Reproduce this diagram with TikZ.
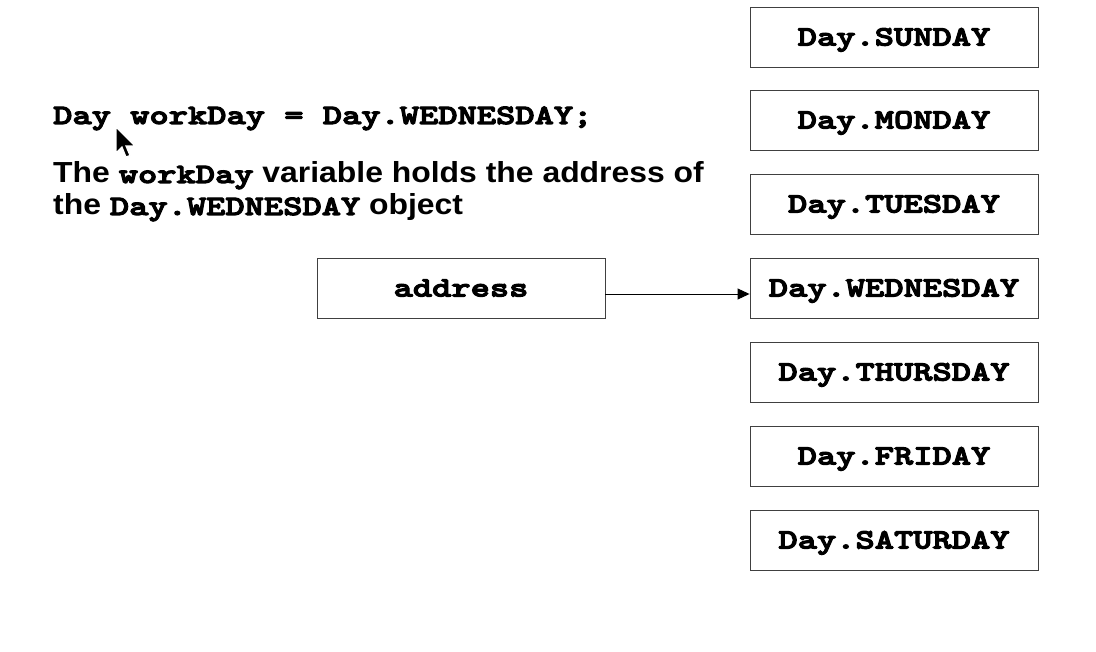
\documentclass[tikz,border=0pt]{standalone}
\usepackage{fontspec}
\setmainfont[FakeStretch=1.1]{Liberation Sans}
\newfontfamily\cmono[FakeStretch=1.31,FakeBold=4]{lmmonolt10-bold.otf}
\usetikzlibrary{arrows.meta}
\newcommand\cw[1]{{\cmono\fontsize{28}{32}\selectfont #1}}
\begin{document}
\begin{tikzpicture}[x=1pt,y=-1pt,
  daybox/.style={draw=black!75,line width=0.9pt,minimum width=288pt,minimum height=60pt,inner sep=0pt,text height=17pt,text depth=0pt},
  plain/.style={anchor=base west,inner sep=0pt},
  sanstext/.style={anchor=base west,inner sep=0pt,font=\bfseries\fontsize{29}{34}\selectfont}]
\useasboundingbox (0,0) rectangle (1096,652);
\node[daybox] (sun) at (894,37) {\cw{Day.SUNDAY}};
\node[daybox] (mon) at (894,120) {\cw{Day.MONDAY}};
\node[daybox] (tue) at (894,204) {\cw{Day.TUESDAY}};
\node[daybox] (wed) at (894,288) {\cw{Day.WEDNESDAY}};
\node[daybox] (thu) at (894,372) {\cw{Day.THURSDAY}};
\node[daybox] (fri) at (894,456) {\cw{Day.FRIDAY}};
\node[daybox] (sat) at (894,540) {\cw{Day.SATURDAY}};
\node[daybox] (addr) at (461,288) {\cw{address}};
\node[plain] (decl) at (53,124) {\cw{Day workDay = Day.WEDNESDAY;}};
\node[sanstext] (l1) at (53,183) {The \cw{workDay} variable holds the address of};
\node[sanstext] (l2) at (53,215) {the \cw{Day.WEDNESDAY} object};
\draw[line width=0.9pt,-{Triangle[length=12pt,width=11pt]}] ([yshift=-6pt]addr.east) -- ([yshift=-6pt]wed.west);
% mouse cursor
\filldraw[fill=black,draw=white,line width=1.2pt,shift={(116,127)}] (0,0) -- (0,26) -- (6,20) -- (10,30) -- (14,28.5) -- (10,19) -- (19,19) -- cycle;
\end{tikzpicture}
\end{document}
